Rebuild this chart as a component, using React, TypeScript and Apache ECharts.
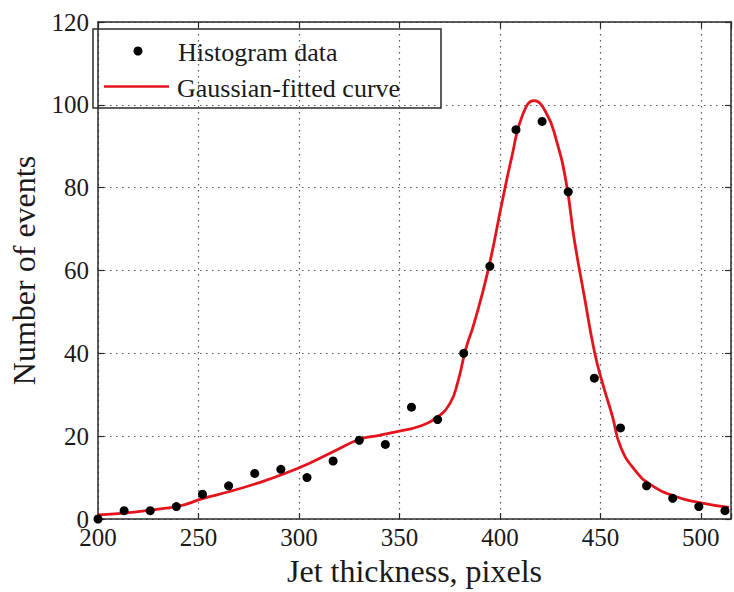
import React, { useEffect, useRef } from "react";
import * as echarts from "echarts";

// Histogram data (jet thickness in pixels vs. number of events)
const histX = [200, 213, 226, 239, 252, 265, 278, 291, 304, 317, 330, 343, 356, 369, 382, 395, 408, 421, 434, 447, 460, 473, 486, 499, 512];
const histY = [0, 2, 2, 3, 6, 8, 11, 12, 10, 14, 19, 18, 27, 24, 40, 61, 94, 96, 79, 34, 22, 8, 5, 3, 2];

// Gaussian-fitted curve
const curveX = [200, 213, 230, 241, 252, 266, 279, 292, 305, 318, 330, 340, 350, 360, 368, 375, 379, 383, 387, 394, 401, 406, 411, 417, 423, 428, 433, 437, 442, 447, 451, 456, 460, 467, 475, 487, 500, 514];
const curveY = [1.0, 1.4, 2.4, 3.2, 4.9, 6.7, 8.6, 10.8, 13.4, 16.5, 19.2, 20.2, 21.2, 22.4, 24.3, 27.8, 33, 41, 47, 59.8, 76.3, 87.6, 97.2, 101, 98.1, 91.6, 81.2, 67.5, 53.8, 40.5, 32.9, 24.8, 17.5, 11.9, 8.3, 5.5, 3.9, 2.8];

const xTicks = [200, 250, 300, 350, 400, 450, 500];
const yTicks = [0, 20, 40, 60, 80, 100, 120];

const legendLabels = ["Histogram data", "Gaussian-fitted curve"];
const xTitle = "Jet thickness, pixels";
const yTitle = "Number of events";

const FONT = "'Liberation Serif', 'Times New Roman', serif";
const TEXT = "#1a1a1a";
const AXIS = "#2a2a2a";
const RED = "#e3141c";

export default function App() {
  const ref = useRef<HTMLDivElement>(null);

  useEffect(() => {
    if (!ref.current) return;
    const chart = echarts.init(ref.current, undefined, { renderer: "svg" });

    const gridLine = { show: true, lineStyle: { color: "#555", width: 1.2, type: [1.5, 4.5] as any } };
    const baseX = {
      type: "value" as const,
      min: xTicks[0],
      max: 515,
      interval: 50,
      axisLine: { show: true, onZero: false, lineStyle: { color: AXIS, width: 1.5 } },
      axisTick: { show: true, inside: true, length: 6, lineStyle: { color: AXIS, width: 1.2 } },
    };
    const baseY = {
      type: "value" as const,
      min: yTicks[0],
      max: yTicks[yTicks.length - 1],
      interval: 20,
      axisLine: { show: true, onZero: false, lineStyle: { color: AXIS, width: 1.5 } },
      axisTick: { show: true, inside: true, length: 6, lineStyle: { color: AXIS, width: 1.2 } },
    };

    chart.setOption({
      animation: false,
      backgroundColor: "#ffffff",
      grid: { left: 97, right: 1.5, top: 22, bottom: 73, containLabel: false },
      xAxis: [
        {
          ...baseX,
          position: "bottom",
          name: xTitle,
          nameLocation: "middle",
          nameGap: 34,
          nameTextStyle: { fontFamily: FONT, fontSize: 32, color: TEXT },
          axisLabel: {
            margin: 9.5,
            fontFamily: FONT,
            fontSize: 25,
            lineHeight: 18,
            color: TEXT,
            formatter: (v: number) => (xTicks.includes(v) ? String(v) : ""),
          },
          splitLine: gridLine,
        },
        {
          ...baseX,
          position: "top",
          axisLabel: { show: false },
          splitLine: { show: false },
        },
      ],
      yAxis: [
        {
          ...baseY,
          position: "left",
          name: yTitle,
          nameLocation: "middle",
          nameGap: 58,
          nameTextStyle: { fontFamily: FONT, fontSize: 32, color: TEXT },
          axisLabel: {
            margin: 9,
            fontFamily: FONT,
            fontSize: 25,
            lineHeight: 18,
            color: TEXT,
            formatter: (v: number) => (yTicks.includes(v) ? String(v) : ""),
          },
          splitLine: gridLine,
        },
        {
          ...baseY,
          position: "right",
          axisLabel: { show: false },
          splitLine: { show: false },
        },
      ],
      series: [
        {
          name: legendLabels[1],
          type: "line",
          data: curveX.map((x, i) => [x, curveY[i]]),
          showSymbol: false,
          smooth: 0.5,
          lineStyle: { color: RED, width: 2.8 },
          z: 3,
        },
        {
          name: legendLabels[0],
          type: "scatter",
          data: histX.map((x, i) => [x, histY[i]]),
          symbol: "circle",
          symbolSize: 9,
          itemStyle: { color: "#000", opacity: 1 },
          z: 4,
        },
      ],
      graphic: [
        {
          type: "group",
          z: 100,
          children: [
            {
              type: "rect",
              shape: { x: 93, y: 29, width: 348, height: 79 },
              style: { fill: "#fff", stroke: AXIS, lineWidth: 1.5 },
            },
            {
              type: "circle",
              shape: { cx: 138, cy: 51, r: 4.5 },
              style: { fill: "#000" },
            },
            {
              type: "text",
              x: 178,
              y: 52,
              style: { text: legendLabels[0], font: `26px ${FONT}`, fill: TEXT, verticalAlign: "middle", align: "left" },
            },
            {
              type: "line",
              shape: { x1: 104, y1: 86.5, x2: 169, y2: 86.5 },
              style: { stroke: RED, lineWidth: 2.5 },
            },
            {
              type: "text",
              x: 177,
              y: 88,
              style: { text: legendLabels[1], font: `26px ${FONT}`, fill: TEXT, verticalAlign: "middle", align: "left" },
            },
          ],
        },
      ],
    });

    return () => chart.dispose();
  }, []);

  return (
    <div
      ref={ref}
      style={{ position: "fixed", left: 0, top: 0, width: 734, height: 592, background: "#fff" }}
    />
  );
}
